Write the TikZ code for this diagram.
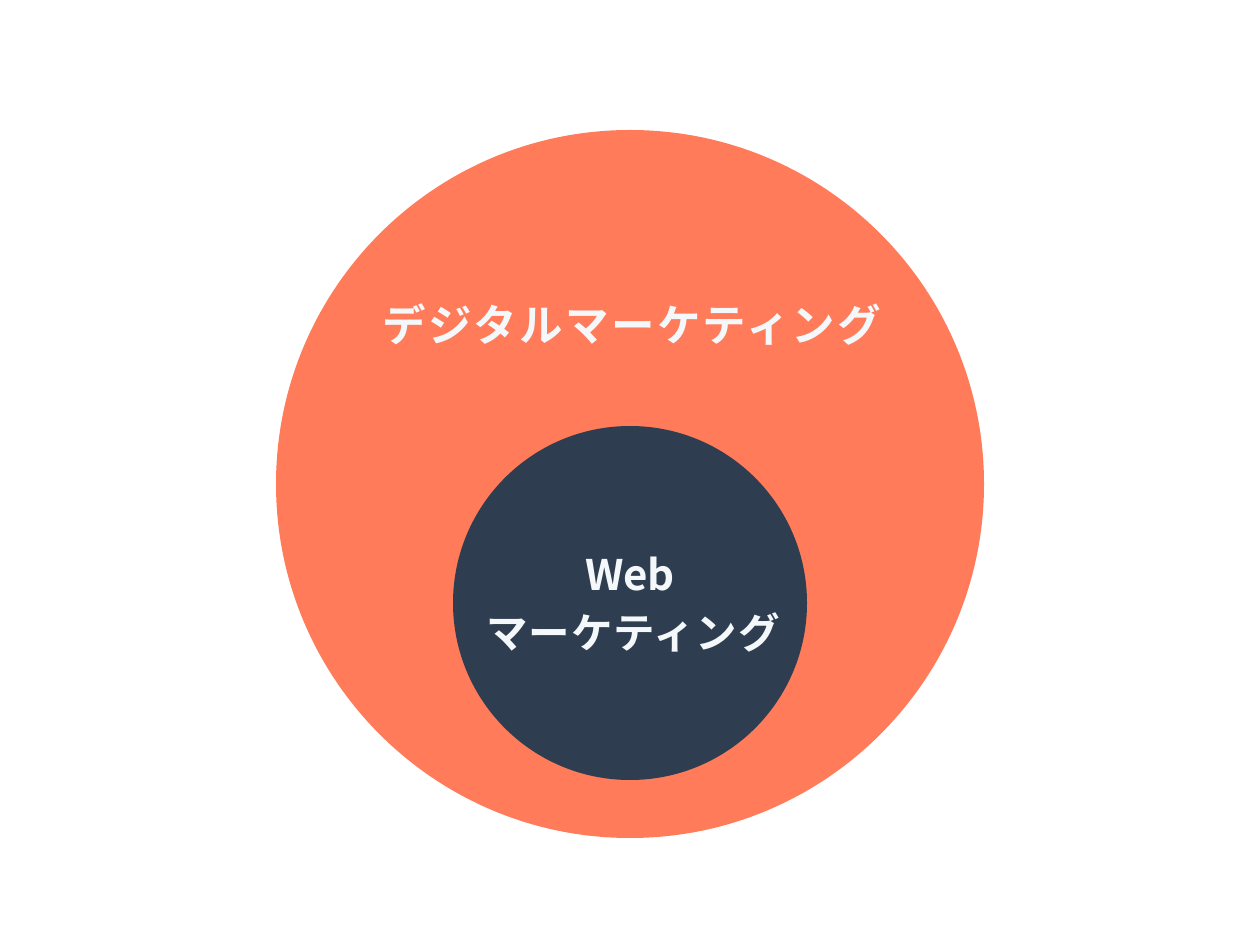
\documentclass[tikz,border=0pt]{standalone}
\usepackage{fontspec}
\newfontfamily\jpfont[LetterSpace=5.7]{Noto Sans CJK JP Bold}
\newfontfamily\jpfontb[LetterSpace=2.5]{Noto Sans CJK JP Bold}
\newfontfamily\jpfontc{Noto Sans CJK JP Bold}
\definecolor{outerc}{HTML}{FF7B5A}
\definecolor{innerc}{HTML}{2E3E50}
\definecolor{txtc}{HTML}{F5F8FA}
\tikzset{
  lbl/.style={text=txtc, inner sep=0pt, anchor=center},
}
\begin{document}
\begin{tikzpicture}[x=1pt,y=1pt]
\useasboundingbox (0,0) rectangle (1252,932);
\fill[white] (0,0) rectangle (1252,932);
\fill[outerc] (630,448) circle (354);
\fill[innerc] (630,329) circle (177);
\node[lbl, font=\jpfont\fontsize{43.5}{50}\selectfont] (outer) at (632,607) {デジタルマーケティング};
\node[lbl, font=\jpfontc\fontsize{42}{48}\selectfont] (web) at (630,358) {Web};
\node[lbl, font=\jpfontb\fontsize{41.5}{48}\selectfont] (inner) at (633,300) {マーケティング};
\end{tikzpicture}
\end{document}
